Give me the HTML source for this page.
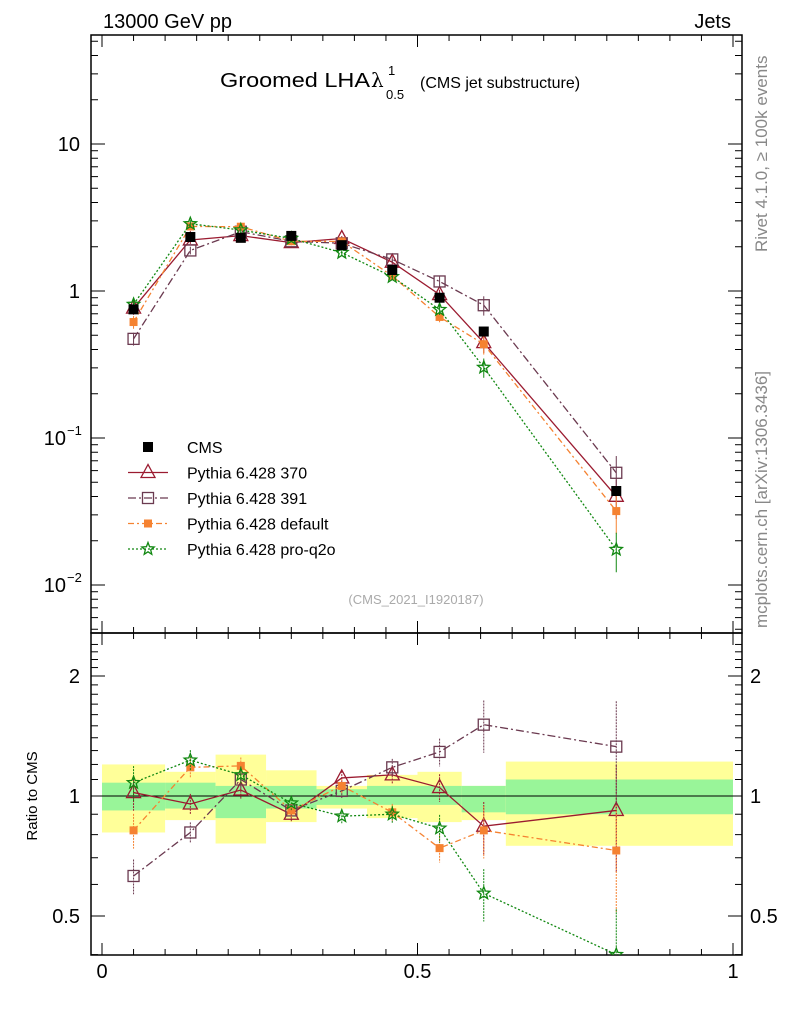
<!DOCTYPE html>
<html><head><meta charset="utf-8"><style>
body{margin:0;background:#fff;width:786px;height:1024px;overflow:hidden}
svg{font-family:"Liberation Sans",sans-serif}
</style></head><body>
<svg id="c" width="786" height="1024" viewBox="0 0 786 1024" xmlns="http://www.w3.org/2000/svg">
<defs>
<clipPath id="cp1"><rect x="91" y="35" width="651" height="598"/></clipPath>
<clipPath id="cp2"><rect x="91" y="633" width="651" height="322"/></clipPath>
</defs>
<text x="103" y="28" font-size="20">13000 GeV pp</text>
<text x="731" y="28" font-size="20" text-anchor="end">Jets</text>
<g>
<text x="220" y="87" font-size="20" textLength="150" lengthAdjust="spacingAndGlyphs">Groomed LHA</text>
<text x="371" y="87" font-size="20" font-family="DejaVu Serif">λ</text>
<text x="386" y="99" font-size="13">0.5</text>
<text x="388" y="75" font-size="13">1</text>
<text x="420" y="88" font-size="16">(CMS jet substructure)</text>
</g>
<text transform="translate(767,252) rotate(-90)" font-size="17" fill="#888">Rivet 4.1.0, ≥ 100k events</text>
<text transform="translate(767,628) rotate(-90)" font-size="17" fill="#888">mcplots.cern.ch [arXiv:1306.3436]</text>
<text x="416" y="604" font-size="13" fill="#aaa" text-anchor="middle">(CMS_2021_I1920187)</text>
<text transform="translate(37,796) rotate(-90)" font-size="15" text-anchor="middle">Ratio to CMS</text>
<g id="bands" clip-path="url(#cp2)"></g><g id="axes"></g><g id="marks1" clip-path="url(#cp1)"></g><g id="marks2" clip-path="url(#cp2)"></g><g id="legend"></g>
</svg>
<script>
const xs=[0.05,0.14,0.22,0.30,0.38,0.46,0.535,0.605,0.815];
const edges=[0,0.1,0.18,0.26,0.34,0.42,0.5,0.57,0.64,1.0];
const cms=[0.75,2.33,2.3,2.37,2.05,1.39,0.9,0.53,0.0436];
const r370=[1.02,0.955,1.035,0.9,1.11,1.13,1.05,0.84,0.92];
const r391=[0.63,0.81,1.1,0.92,1.03,1.18,1.29,1.51,1.33];
const rdef=[0.82,1.18,1.19,0.92,1.06,0.91,0.74,0.82,0.73];
const rpro=[1.08,1.23,1.13,0.96,0.89,0.9,0.83,0.57,0.4];
const relErr=[0.1,0.06,0.05,0.04,0.04,0.05,0.08,0.15,0.3];
const yelHi=[1.20,1.15,1.27,1.16,1.06,1.13,1.15,1.06,1.22];
const yelLo=[0.81,0.87,0.76,0.86,0.93,0.88,0.86,0.87,0.75];
const grnHi=[1.08,1.08,1.06,1.06,1.04,1.06,1.06,1.06,1.10];
const grnLo=[0.92,0.93,0.88,0.93,0.95,0.95,0.95,0.91,0.90];
const xTicks=[0,0.5,1];
const xTickLabels=["0","0.5","1"];

const NS="http://www.w3.org/2000/svg";
const X=v=>102+631*v;
const Y=v=>291-147*Math.log10(v);
const R=v=>796-398.6*Math.log10(v);
const L=[91,742],T1=35,B1=633,B2=955;
function el(t,a,p){const e=document.createElementNS(NS,t);for(const k in a)e.setAttribute(k,a[k]);document.getElementById(p).appendChild(e);return e;}

for(let i=0;i<yelHi.length;i++){
 const b1=el('rect',{x:X(edges[i]),y:R(yelHi[i]),width:X(edges[i+1])-X(edges[i]),height:R(yelLo[i])-R(yelHi[i]),fill:'#ffff99'},'bands');
 
 
 const b2=el('rect',{x:X(edges[i]),y:R(grnHi[i]),width:X(edges[i+1])-X(edges[i]),height:R(grnLo[i])-R(grnHi[i]),fill:'#99f599'},'bands');
 
 
}
el('line',{x1:L[0],x2:L[1],y1:R(1),y2:R(1),stroke:'#000','stroke-width':1},'bands');

const f1=el('rect',{x:L[0],y:T1,width:L[1]-L[0],height:B1-T1,fill:'none',stroke:'#000','stroke-width':1.5},'axes');


const f2=el('rect',{x:L[0],y:B1,width:L[1]-L[0],height:B2-B1,fill:'none',stroke:'#000','stroke-width':1.5},'axes');


for(let v=0;v<=1.0001;v+=0.05){
 const big=Math.round(v*100)%50==0;
 const len=big?12:6;
 for(const [yb,yt] of [[B1,T1],[B2,B1]]){
  el('line',{x1:X(v),x2:X(v),y1:yb,y2:yb-len,stroke:'#000'},'axes');
  el('line',{x1:X(v),x2:X(v),y1:yt,y2:yt+len,stroke:'#000'},'axes');
 }
}
xTicks.forEach((v,i)=>{const t=el('text',{x:X(v),y:978,'font-size':20,'text-anchor':'middle'},'axes');t.textContent=xTickLabels[i];
 
 });
for(let d=-3;d<=1;d++)for(let m=1;m<10;m++){const v=m*Math.pow(10,d);const y=Y(v);if(y<T1||y>B1)continue;const len=m==1?14:7;
 el('line',{x1:L[0],x2:L[0]+len,y1:y,y2:y,stroke:'#000'},'axes');el('line',{x1:L[1],x2:L[1]-len,y1:y,y2:y,stroke:'#000'},'axes');}
[[10,'10'],[1,'1'],[0.1,'10'],[0.01,'10']].forEach(([v,s],i)=>{const t=el('text',{x:80,y:Y(v)+7,'font-size':20,'text-anchor':'end'},'axes');
 
 
 if(i<2)t.textContent=s;else{t.setAttribute('x',66);t.textContent=s;const sp=el('text',{x:67,y:Y(v)-3,'font-size':13},'axes');sp.textContent=i==2?'−1':'−2';}});
for(let v=0.4;v<2.41;v+=0.1){const y=R(v);if(y<B1||y>B2)continue;const big=[0.5,1,2].some(k=>Math.abs(k-v)<1e-6);const len=big?14:7;
 el('line',{x1:L[0],x2:L[0]+len,y1:y,y2:y,stroke:'#000'},'axes');el('line',{x1:L[1],x2:L[1]-len,y1:y,y2:y,stroke:'#000'},'axes');}
[[2,'2'],[1,'1'],[0.5,'0.5']].forEach(([v,s])=>{for(const [x,a] of [[80,'end'],[750,'start']]){const t=el('text',{x:x,y:R(v)+7,'font-size':20,'text-anchor':a},'axes');t.textContent=s;
 
 }});

function marker(kind,x,y,c,p){
 if(kind=='sq')return el('rect',{x:x-5,y:y-5,width:10,height:10,fill:'#000'},p);
 if(kind=='tri')return el('polygon',{points:`${x},${y-8} ${x-7},${y+5} ${x+7},${y+5}`,fill:'none',stroke:c,'stroke-width':1.3},p);
 if(kind=='osq')return el('rect',{x:x-5.5,y:y-5.5,width:11,height:11,fill:'none',stroke:c,'stroke-width':1.3},p);
 if(kind=='fsq')return el('rect',{x:x-4,y:y-4,width:8,height:8,fill:c},p);
 let pts=[];for(let k=0;k<10;k++){const r=k%2?2.8:6.5,a=-Math.PI/2+k*Math.PI/5;pts.push((x+r*Math.cos(a)).toFixed(1)+','+(y+r*Math.sin(a)).toFixed(1));}
 return el('polygon',{points:pts.join(' '),fill:'none',stroke:c,'stroke-width':1.3},p);
}
const series=[
 {name:'Pythia 6.428 370',r:r370,c:'#9b1b30',dash:'',m:'tri'},
 {name:'Pythia 6.428 391',r:r391,c:'#6b3a50',dash:'8,3,2,3',m:'osq'},
 {name:'Pythia 6.428 default',r:rdef,c:'#f58231',dash:'6,3,2,3',m:'fsq'},
 {name:'Pythia 6.428 pro-q2o',r:rpro,c:'#118811',dash:'2,2',m:'star'}];
series.forEach(s=>{
 const vals=cms.map((c,i)=>c*s.r[i]);
 const lm=el('polyline',{points:xs.map((x,i)=>X(x)+','+Y(vals[i])).join(' '),fill:'none',stroke:s.c,'stroke-width':1.3,'stroke-dasharray':s.dash},'marks1');
 
 
 const lr=el('polyline',{points:xs.map((x,i)=>X(x)+','+R(s.r[i])).join(' '),fill:'none',stroke:s.c,'stroke-width':1.3,'stroke-dasharray':s.dash},'marks2');
 
 
 xs.forEach((x,i)=>{
  const e=relErr[i];
  el('line',{x1:X(x),x2:X(x),y1:Y(vals[i]*(1+e)),y2:Y(vals[i]*(1-e)),stroke:s.c},'marks1');
  el('line',{x1:X(x),x2:X(x),y1:R(s.r[i]*(1+e)),y2:R(s.r[i]*(1-e)),stroke:s.c,'stroke-dasharray':'2,1'},'marks2');
  const m1=marker(s.m,X(x),Y(vals[i]),s.c,'marks1');
  
  
  const m2=marker(s.m,X(x),R(s.r[i]),s.c,'marks2');
  
  
 });
});
xs.forEach((x,i)=>{const m=marker('sq',X(x),Y(cms[i]),'#000','marks1');
 
 });
const lg=[{name:'CMS',m:'sq',c:'#000',dash:null}].concat(series);
lg.forEach((s,i)=>{const y=447+25.5*i;
 if(s.dash!==null)el('line',{x1:128,x2:168,y1:y,y2:y,stroke:s.c,'stroke-width':1.3,'stroke-dasharray':s.dash},'legend');
 marker(s.m,148,y,s.c,'legend');
 const t=el('text',{x:187,y:y+6,'font-size':16},'legend');t.textContent=s.name;
 
 });
</script>
</body></html>
